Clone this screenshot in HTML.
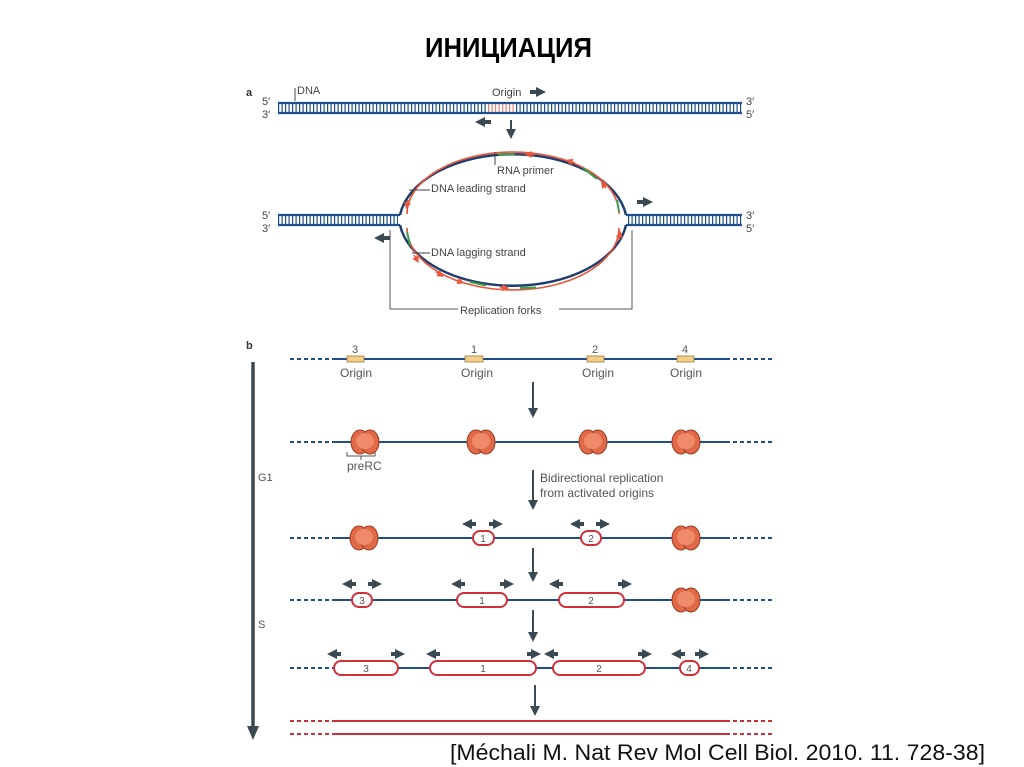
<!DOCTYPE html>
<html><head><meta charset="utf-8"><style>
html,body{margin:0;padding:0;background:#fff}
svg{display:block}
text{font-family:"Liberation Sans",sans-serif}
</style></head><body>
<svg width="1024" height="767" viewBox="0 0 1024 767" xmlns="http://www.w3.org/2000/svg">
<defs>
<marker id="ah" markerWidth="10" markerHeight="10" refX="4" refY="5" orient="auto" markerUnits="userSpaceOnUse"><path d="M0,0 L10,5 L0,10 z" fill="#3b4a52"/></marker>
<marker id="ra" markerWidth="7" markerHeight="7" refX="3.5" refY="3.5" orient="auto" markerUnits="userSpaceOnUse"><path d="M0,0 L7,3.5 L0,7 z" fill="#e8573a"/></marker>
<g id="prc"><ellipse cx="-5" cy="0" rx="9" ry="12" fill="#e06a48" stroke="#9c3a22" stroke-width="1"/><ellipse cx="5" cy="0" rx="9" ry="12" fill="#e06a48" stroke="#9c3a22" stroke-width="1"/><ellipse cx="0" cy="-1" rx="9" ry="8" fill="#ef8a6a"/></g>
</defs>
<text x="425" y="57" font-size="28" font-weight="bold" textLength="167" lengthAdjust="spacingAndGlyphs">ИНИЦИАЦИЯ</text>

<!-- panel a -->
<text x="246" y="96" font-size="11" font-weight="bold" fill="#333">a</text>
<g font-size="11" fill="#444">
<text x="262" y="105">5′</text><text x="262" y="118">3′</text>
<text x="746" y="105">3′</text><text x="746" y="118">5′</text>
<text x="262" y="219">5′</text><text x="262" y="232">3′</text>
<text x="746" y="219">3′</text><text x="746" y="232">5′</text>
<text x="297" y="94">DNA</text>
<text x="492" y="96">Origin</text>
<text x="497" y="174">RNA primer</text>
<text x="431" y="192">DNA leading strand</text>
<text x="431" y="256">DNA lagging strand</text>
<text x="460" y="314">Replication forks</text>
</g>
<line x1="295" y1="88" x2="295" y2="101" stroke="#444" stroke-width="1"/>
<line x1="278" y1="108" x2="742" y2="108" stroke="#1f4f8a" stroke-width="9" stroke-dasharray="1.2 2.3"/>
<line x1="488" y1="108" x2="515" y2="108" stroke="#fff" stroke-width="9"/>
<line x1="488" y1="108" x2="515" y2="108" stroke="#e88070" stroke-width="9" stroke-dasharray="1.2 2.3"/>
<line x1="278" y1="103" x2="742" y2="103" stroke="#1f4f8a" stroke-width="2.2"/>
<line x1="278" y1="113" x2="742" y2="113" stroke="#1f4f8a" stroke-width="2.2"/>
<line x1="530" y1="92" x2="540" y2="92" stroke="#3b4a52" stroke-width="4" marker-end="url(#ah)"/>
<line x1="491" y1="122" x2="481" y2="122" stroke="#3b4a52" stroke-width="4" marker-end="url(#ah)"/>
<line x1="511" y1="120" x2="511" y2="133" stroke="#3b4a52" stroke-width="2" marker-end="url(#ah)"/>
<!-- fork dna -->
<line x1="278" y1="220" x2="398" y2="220" stroke="#1f4f8a" stroke-width="9" stroke-dasharray="1.2 2.3"/>
<line x1="278" y1="215" x2="400" y2="215" stroke="#1f4f8a" stroke-width="2.2"/>
<line x1="278" y1="225" x2="400" y2="225" stroke="#1f4f8a" stroke-width="2.2"/>
<line x1="628" y1="220" x2="742" y2="220" stroke="#1f4f8a" stroke-width="9" stroke-dasharray="1.2 2.3"/>
<line x1="626" y1="215" x2="742" y2="215" stroke="#1f4f8a" stroke-width="2.2"/>
<line x1="626" y1="225" x2="742" y2="225" stroke="#1f4f8a" stroke-width="2.2"/>
<!-- bubble -->
<path d="M400,215 A114,70 0 0 1 626,215" fill="none" stroke="#1f3e6e" stroke-width="2.5"/>
<path d="M400,225 A114,70 0 0 0 626,225" fill="none" stroke="#1f3e6e" stroke-width="2.5"/>
<path d="M407,214 A106,62 0 0 1 619,214" fill="none" stroke="#e8573a" stroke-width="1.6"/>
<path d="M407,228 A106,62 0 0 0 619,228" fill="none" stroke="#e8573a" stroke-width="1.6"/>
<g stroke="#3aa04a" stroke-width="2" fill="none">
<path d="M498,154.5 L515,154"/>
<path d="M583,168 L597,179"/>
<path d="M617,200 L619,212"/>
<path d="M407,232 L410,245"/>
<path d="M470,282 L486,285.5"/>
<path d="M520,288 L536,287.5"/>
</g>
<g stroke="#e8573a" stroke-width="1.6">
<line x1="408" y1="200" x2="407" y2="206" marker-end="url(#ra)"/>
<line x1="535" y1="154.5" x2="528" y2="154.3" marker-end="url(#ra)"/>
<line x1="575" y1="163" x2="569" y2="161" marker-end="url(#ra)"/>
<line x1="606" y1="188" x2="603" y2="184" marker-end="url(#ra)"/>
<line x1="619" y1="240" x2="620" y2="234" marker-end="url(#ra)"/>
<line x1="414" y1="255" x2="417" y2="260" marker-end="url(#ra)"/>
<line x1="436" y1="272" x2="441" y2="275" marker-end="url(#ra)"/>
<line x1="455" y1="280" x2="461" y2="282" marker-end="url(#ra)"/>
<line x1="500" y1="287.5" x2="506" y2="288" marker-end="url(#ra)"/>
</g>
<line x1="495" y1="152" x2="495" y2="165" stroke="#444" stroke-width="1"/>
<line x1="409" y1="190" x2="430" y2="190" stroke="#444" stroke-width="1"/>
<line x1="412" y1="253" x2="430" y2="253" stroke="#444" stroke-width="1"/>
<polyline points="390,230 390,309 458,309" fill="none" stroke="#555" stroke-width="1"/>
<polyline points="559,309 632,309 632,230" fill="none" stroke="#555" stroke-width="1"/>
<line x1="637" y1="202" x2="647" y2="202" stroke="#3b4a52" stroke-width="4" marker-end="url(#ah)"/>
<line x1="390" y1="238" x2="380" y2="238" stroke="#3b4a52" stroke-width="4" marker-end="url(#ah)"/>

<!-- panel b -->
<text x="246" y="349" font-size="11" font-weight="bold" fill="#333">b</text>
<line x1="253" y1="362" x2="253" y2="728" stroke="#3b4a52" stroke-width="3.5"/>
<path d="M247,726 L259,726 L253,740 z" fill="#3b4a52"/>
<text x="258" y="481" font-size="11" fill="#555">G1</text>
<text x="258" y="628" font-size="11" fill="#555">S</text>
<g stroke="#1f4f8a" stroke-width="2">
<line x1="290" y1="359" x2="332" y2="359" stroke-dasharray="4 3"/><line x1="332" y1="359" x2="730" y2="359"/><line x1="733" y1="359" x2="775" y2="359" stroke-dasharray="4 3"/>
<line x1="290" y1="442" x2="332" y2="442" stroke-dasharray="4 3"/><line x1="332" y1="442" x2="730" y2="442"/><line x1="733" y1="442" x2="775" y2="442" stroke-dasharray="4 3"/>
<line x1="290" y1="538" x2="332" y2="538" stroke-dasharray="4 3"/><line x1="332" y1="538" x2="730" y2="538"/><line x1="733" y1="538" x2="775" y2="538" stroke-dasharray="4 3"/>
<line x1="290" y1="600" x2="332" y2="600" stroke-dasharray="4 3"/><line x1="332" y1="600" x2="730" y2="600"/><line x1="733" y1="600" x2="775" y2="600" stroke-dasharray="4 3"/>
<line x1="290" y1="668" x2="332" y2="668" stroke-dasharray="4 3"/><line x1="332" y1="668" x2="730" y2="668"/><line x1="733" y1="668" x2="775" y2="668" stroke-dasharray="4 3"/>
</g>
<g stroke="#d0303a" stroke-width="2">
<line x1="290" y1="721" x2="332" y2="721" stroke-dasharray="4 3"/><line x1="332" y1="721" x2="730" y2="721"/><line x1="733" y1="721" x2="775" y2="721" stroke-dasharray="4 3"/>
<line x1="290" y1="734" x2="332" y2="734" stroke-dasharray="4 3"/><line x1="332" y1="734" x2="730" y2="734"/><line x1="733" y1="734" x2="775" y2="734" stroke-dasharray="4 3"/>
</g>
<g fill="#f3cf8a" stroke="#9a7a3a" stroke-width="0.8">
<rect x="347" y="356" width="17" height="6"/><rect x="465" y="356" width="18" height="6"/><rect x="587" y="356" width="17" height="6"/><rect x="677" y="356" width="17" height="6"/>
</g>
<g font-size="11" fill="#555" text-anchor="middle">
<text x="355" y="353">3</text><text x="474" y="353">1</text><text x="595" y="353">2</text><text x="685" y="353">4</text>
<text x="356" y="377" font-size="12">Origin</text><text x="477" y="377" font-size="12">Origin</text><text x="598" y="377" font-size="12">Origin</text><text x="686" y="377" font-size="12">Origin</text>
</g>
<g stroke="#3b4a52" stroke-width="2">
<line x1="533" y1="382" x2="533" y2="412" marker-end="url(#ah)"/>
<line x1="533" y1="470" x2="533" y2="504" marker-end="url(#ah)"/>
<line x1="533" y1="548" x2="533" y2="576" marker-end="url(#ah)"/>
<line x1="533" y1="610" x2="533" y2="636" marker-end="url(#ah)"/>
<line x1="535" y1="685" x2="535" y2="710" marker-end="url(#ah)"/>
</g>
<text x="540" y="482" font-size="12" fill="#555">Bidirectional replication</text>
<text x="540" y="497" font-size="12" fill="#555">from activated origins</text>
<polyline points="347,452 347,456 375,456 375,452" fill="none" stroke="#555" stroke-width="1"/>
<line x1="361" y1="456" x2="361" y2="460" stroke="#555" stroke-width="1"/>
<text x="347" y="470" font-size="12" fill="#555">preRC</text>
<use href="#prc" x="365" y="442"/><use href="#prc" x="481" y="442"/><use href="#prc" x="593" y="442"/><use href="#prc" x="686" y="442"/>
<use href="#prc" x="364" y="538"/><use href="#prc" x="686" y="538"/><use href="#prc" x="686" y="600"/>
<g fill="#fff" stroke="#d0303a" stroke-width="2">
<rect x="473" y="531" width="21" height="14" rx="7"/><rect x="581" y="531" width="20" height="14" rx="7"/>
<rect x="352" y="593" width="20" height="14" rx="7"/><rect x="457" y="593" width="50" height="14" rx="7"/><rect x="559" y="593" width="65" height="14" rx="7"/>
<rect x="334" y="661" width="64" height="14" rx="7"/><rect x="430" y="661" width="106" height="14" rx="7"/><rect x="553" y="661" width="92" height="14" rx="7"/><rect x="680" y="661" width="19" height="14" rx="7"/>
</g>
<g font-size="10" fill="#555" text-anchor="middle">
<text x="483" y="542">1</text><text x="591" y="542">2</text>
<text x="362" y="604">3</text><text x="482" y="604">1</text><text x="591" y="604">2</text>
<text x="366" y="672">3</text><text x="483" y="672">1</text><text x="599" y="672">2</text><text x="689" y="672">4</text>
</g>
<g stroke="#3b4a52" stroke-width="4">
<line x1="476" y1="524" x2="468" y2="524" marker-end="url(#ah)"/><line x1="489" y1="524" x2="497" y2="524" marker-end="url(#ah)"/>
<line x1="584" y1="524" x2="576" y2="524" marker-end="url(#ah)"/><line x1="596" y1="524" x2="604" y2="524" marker-end="url(#ah)"/>
<line x1="356" y1="584" x2="348" y2="584" marker-end="url(#ah)"/><line x1="368" y1="584" x2="376" y2="584" marker-end="url(#ah)"/>
<line x1="465" y1="584" x2="457" y2="584" marker-end="url(#ah)"/><line x1="500" y1="584" x2="508" y2="584" marker-end="url(#ah)"/>
<line x1="563" y1="584" x2="555" y2="584" marker-end="url(#ah)"/><line x1="618" y1="584" x2="626" y2="584" marker-end="url(#ah)"/>
<line x1="341" y1="654" x2="333" y2="654" marker-end="url(#ah)"/><line x1="391" y1="654" x2="399" y2="654" marker-end="url(#ah)"/>
<line x1="440" y1="654" x2="432" y2="654" marker-end="url(#ah)"/><line x1="527" y1="654" x2="535" y2="654" marker-end="url(#ah)"/>
<line x1="558" y1="654" x2="550" y2="654" marker-end="url(#ah)"/><line x1="638" y1="654" x2="646" y2="654" marker-end="url(#ah)"/>
<line x1="685" y1="654" x2="677" y2="654" marker-end="url(#ah)"/><line x1="695" y1="654" x2="703" y2="654" marker-end="url(#ah)"/>
</g>
<text x="450" y="760" font-size="22" fill="#111" textLength="535" lengthAdjust="spacingAndGlyphs">[Méchali M. Nat Rev Mol Cell Biol. 2010. 11. 728-38]</text>
</svg>
</body></html>
